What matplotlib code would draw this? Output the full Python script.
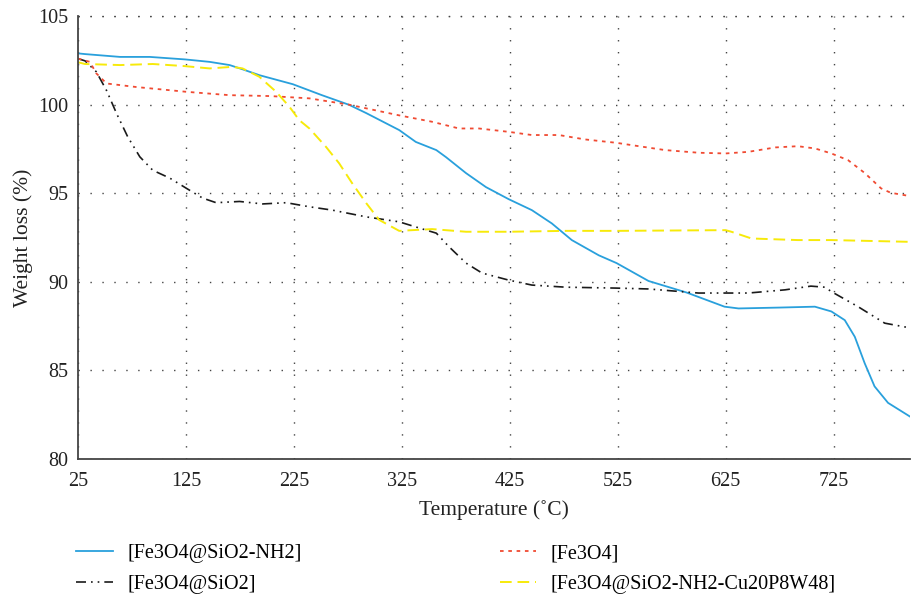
import numpy as np
import matplotlib
matplotlib.use("Agg")
import matplotlib.pyplot as plt

plt.rcParams['font.family'] = ['Liberation Serif', 'DejaVu Serif']

# TGA curves: temperature (degC) vs weight (%)
t_nh2 = [25, 31.5, 64, 91.5, 124, 147, 165.5, 177.5, 193, 224, 251, 276, 292, 322.6,
         338, 357, 366, 384.5, 403, 424, 445.5, 464, 482.5, 507.5, 524, 553.6, 588.8,
         624, 637, 675, 707.7, 723, 735.4, 744.7, 753.9, 763, 775.5, 796]
w_nh2 = [102.9, 102.86, 102.7, 102.7, 102.56, 102.42, 102.24, 102.0, 101.67, 101.16, 100.54,
         100.0, 99.53, 98.57, 97.9, 97.44, 97.04, 96.14, 95.35, 94.67, 94.05, 93.3, 92.36,
         91.5, 91.06, 90.05, 89.4, 88.6, 88.5, 88.55, 88.6, 88.33, 87.84, 86.9, 85.4, 84.1,
         83.17, 82.39]

t_sio2 = [25, 31.5, 42, 51.5, 60.8, 71, 82.3, 94.3, 110, 125.5, 140.5, 153, 174.7, 196,
          218, 239.4, 260.7, 292, 322.6, 338, 357, 368.8, 384.5, 399.3, 424, 445.5, 477,
          523, 553.6, 599.9, 646, 680, 704, 717, 723, 747.7, 772.4, 796]
w_sio2 = [102.6, 102.48, 101.86, 100.8, 99.5, 98.2, 97.06, 96.3, 95.86, 95.28, 94.73, 94.47,
          94.54, 94.4, 94.47, 94.24, 94.05, 93.67, 93.39, 93.1, 92.75, 91.98, 91.06, 90.5,
          90.1, 89.82, 89.7, 89.65, 89.6, 89.37, 89.37, 89.55, 89.76, 89.7, 89.45, 88.6,
          87.67, 87.4]

t_fe3o4 = [25, 31.5, 36, 42, 51.5, 79, 125.5, 165.5, 203, 239.4, 276.4, 322.6, 353, 378,
           396.5, 424, 445.5, 470.5, 495, 524, 538, 569, 600, 625, 646, 671, 692, 708, 723,
           738.5, 754, 769, 778, 796]
w_fe3o4 = [102.6, 102.5, 102.42, 101.77, 101.2, 101.0, 100.73, 100.54, 100.49, 100.36, 100.0,
           99.4, 99.04, 98.66, 98.66, 98.47, 98.29, 98.29, 98.04, 97.85, 97.72, 97.44, 97.29,
           97.25, 97.34, 97.59, 97.66, 97.53, 97.25, 96.87, 96.14, 95.28, 95.03, 94.84]

t_cu = [25, 31.5, 64, 94.3, 124, 147, 168, 177.5, 193, 208.6, 221, 230, 239.4, 254.8, 267,
        279, 292, 304, 322.6, 353, 384.5, 424, 477, 524, 625, 630.3, 649, 692, 723, 796]
w_cu = [102.4, 102.3, 102.24, 102.3, 102.18, 102.05, 102.14, 102.05, 101.58, 100.73, 99.88,
        99.13, 98.66, 97.62, 96.69, 95.57, 94.45, 93.5, 92.88, 92.98, 92.83, 92.83, 92.88,
        92.88, 92.92, 92.83, 92.45, 92.36, 92.36, 92.26]

labels = ['[Fe3O4@SiO2-NH2]', '[Fe3O4@SiO2]', '[Fe3O4]', '[Fe3O4@SiO2-NH2-Cu20P8W48]']
x_ticks = [25, 125, 225, 325, 425, 525, 625, 725]
y_ticks = [80, 85, 90, 95, 100, 105]

fig = plt.figure(figsize=(9.12, 5.99), dpi=100)
ax = fig.add_axes([0.0855, 0.2337, 0.9125, 0.7393])

l1, = ax.plot(t_nh2, w_nh2, color='#29a0dc', lw=1.3, label=labels[0])
l2, = ax.plot(t_sio2, w_sio2, color='#1a1a1a', lw=1.2, dashes=(6, 3, 1, 3, 1, 3), label=labels[1])
l3, = ax.plot(t_fe3o4, w_fe3o4, color='#f04a32', lw=1.3, dashes=(2, 2.6), label=labels[2])
l4, = ax.plot(t_cu, w_cu, color='#f7ea0a', lw=1.4, dashes=(6, 3), label=labels[3])

ax.set_xlim(25, 796)
ax.set_ylim(80, 105)
ax.set_xticks(x_ticks)
ax.set_yticks(y_ticks)
ax.tick_params(length=0, labelsize=14.5, colors='#222222')
ax.tick_params(axis='x', pad=9)
ax.tick_params(axis='y', pad=7)

for side in ['top', 'right']:
    ax.spines[side].set_visible(False)
for side in ['left', 'bottom']:
    ax.spines[side].set_color('#444444')
    ax.spines[side].set_linewidth(1.3)

ax.grid(True, color='#444444', lw=1.0, dashes=(1, 7.6))
ax.set_axisbelow(True)
# top boundary drawn as a dotted line at 105
ax.axhline(105, color='#444444', lw=1.0, dashes=(1, 7.6), clip_on=False)

ax.set_xlabel('Temperature (˚C)', fontsize=15.5, color='#222222', labelpad=7)
ax.set_ylabel('Weight loss (%)', fontsize=15.5, color='#222222', labelpad=4)

fig.legend(handles=[l1, l2, l3, l4], ncol=2, loc='upper left',
           bbox_to_anchor=(0.075, 0.105), frameon=False, fontsize=14.5,
           handlelength=1.8, handletextpad=0.75, columnspacing=9.8,
           labelspacing=0.6, borderaxespad=0)

fig.savefig('out.png', dpi=100)
